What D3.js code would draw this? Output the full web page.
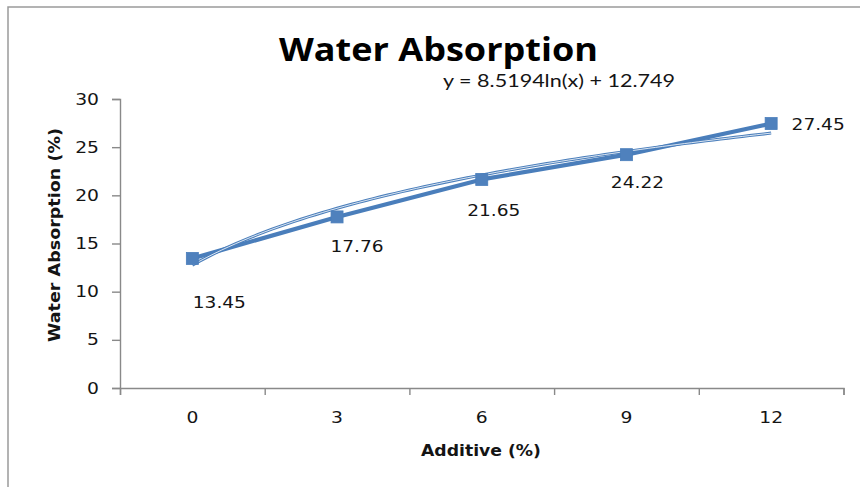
<!DOCTYPE html>
<html><head><meta charset="utf-8">
<script src="https://cdn.jsdelivr.net/npm/d3@7"></script>
<style>html,body{margin:0;padding:0;background:#fff;} text{font-variant-ligatures:none;font-feature-settings:"liga" 0, "dlig" 0;}</style>
</head><body>
<svg id="c" width="860" height="487"></svg>
<script>
// ---- data ----
const categories = ["0", "3", "6", "9", "12"];
const waterAbsorption = [13.45, 17.76, 21.65, 24.22, 27.45];
const yTicks = [0, 5, 10, 15, 20, 25, 30];
const trendCoef = [8.5194, 12.749]; // y = a ln(x) + b, x = category index (1-based)
const titleText = "Water Absorption";
const equationText = "y = 8.5194ln(x) + 12.749";
const xTitle = "Additive (%)";
const yTitle = "Water Absorption (%)";

(function () {
// ---- layout ----
const svg = d3.select("#c");
const blue = "#4a7ebb", axisCol = "#898989", txt = "#141414";
const pLeft = 120, pRight = 843.5, pTop = 99, pBottom = 388;
const labelOffsets = [[27, 44], [20, 30], [12, 31], [11, 28], [47, 1]]; // label centre offset from point

const xIdx = d3.scaleLinear().domain([0, categories.length]).range([pLeft, pRight]);
const xBand = d3.scaleBand().domain(categories).range([pLeft, pRight]).padding(0);
const y = d3.scaleLinear().domain([0, 30]).range([pBottom, pTop]);

// frame (spreadsheet chart border)
svg.append("path").attr("d", "M8,487 V7 H860").attr("fill", "none")
  .attr("stroke", "#9a9a9a").attr("stroke-width", 1.5);

function stretch(sel, f) {
  sel.each(function () {
    const l = this.getComputedTextLength();
    d3.select(this).attr("textLength", l * f).attr("lengthAdjust", "spacingAndGlyphs");
  });
}
function fitWidth(sel, w) {
  sel.attr("textLength", w).attr("lengthAdjust", "spacingAndGlyphs");
}

// y axis
const gy = svg.append("g").attr("transform", `translate(${pLeft},0)`)
  .call(d3.axisLeft(y).tickValues(yTicks).tickSize(8).tickPadding(13));
gy.select(".domain").attr("stroke", axisCol).attr("stroke-width", 1.4);
gy.selectAll(".tick line").attr("stroke", axisCol).attr("stroke-width", 1.4);
gy.selectAll("text").attr("font-family", "DejaVu Sans, Verdana, sans-serif")
  .attr("font-size", 16).attr("fill", txt);
stretch(gy.selectAll("text"), 1.17);

// x axis: tick marks at category boundaries
const gx = svg.append("g").attr("transform", `translate(0,${pBottom})`)
  .call(d3.axisBottom(xIdx).tickValues(d3.range(categories.length + 1)).tickSize(7).tickFormat(""));
gx.select(".domain").attr("stroke", axisCol).attr("stroke-width", 1.4);
gx.selectAll(".tick line").attr("stroke", axisCol).attr("stroke-width", 1.4);
// x labels at category centres
const gxl = svg.append("g").attr("transform", `translate(0,${pBottom})`)
  .call(d3.axisBottom(xBand).tickSize(0).tickPadding(0));
gxl.select(".domain").remove();
gxl.selectAll("text").attr("y", 29).attr("dy", "0.36em")
  .attr("font-family", "DejaVu Sans, Verdana, sans-serif").attr("font-size", 16).attr("fill", txt);
stretch(gxl.selectAll("text"), 1.17);

// series line
const pts = categories.map((c, i) => ({ c, v: waterAbsorption[i], x: xBand(c) + xBand.bandwidth() / 2, y: y(waterAbsorption[i]) }));
svg.append("path").datum(pts)
  .attr("d", d3.line().x(d => d.x).y(d => d.y))
  .attr("fill", "none").attr("stroke", blue).attr("stroke-width", 4.2).attr("stroke-linejoin", "round");

// trendline (log fit from the chart's equation)
const tSamples = d3.range(1, categories.length + 0.001, 0.05);
const trend = tSamples.map(t => [xIdx(t - 0.5), y(trendCoef[0] * Math.log(t) + trendCoef[1])]);
const tl = d3.line();
svg.append("path").attr("d", tl(trend)).attr("fill", "none").attr("stroke", blue).attr("stroke-width", 3.0);
svg.append("path").attr("d", tl(trend)).attr("fill", "none").attr("stroke", "#ffffff").attr("stroke-width", 1.0).attr("opacity", 0.8);

// markers
svg.selectAll("rect.m").data(pts).join("rect").attr("class", "m")
  .attr("x", d => d.x - 6).attr("y", d => d.y - 6).attr("width", 12).attr("height", 12)
  .attr("fill", "#4f81bd").attr("stroke", blue).attr("stroke-width", 0.8);

// data labels
const dl = svg.selectAll("text.dl").data(pts).join("text").attr("class", "dl")
  .attr("x", (d, i) => d.x + labelOffsets[i][0]).attr("y", (d, i) => d.y + labelOffsets[i][1])
  .attr("text-anchor", "middle").attr("dominant-baseline", "central")
  .attr("font-family", "DejaVu Sans, Verdana, sans-serif").attr("font-size", 16).attr("fill", txt)
  .text(d => d.v.toFixed(2));
stretch(dl, 1.16);

// title
const tt = svg.append("text").attr("x", 438.5).attr("y", 61).attr("text-anchor", "middle")
  .attr("font-family", "'Open Sans', Lato, sans-serif").attr("font-weight", 700).attr("font-size", 32)
  .attr("fill", "#000").text(titleText);
fitWidth(tt, 319);

// trendline equation
const eq = svg.append("text").attr("x", 559).attr("y", 87).attr("text-anchor", "middle")
  .attr("font-family", "Lato, 'Open Sans', sans-serif").attr("font-size", 17.5)
  .attr("fill", txt).text(equationText);
fitWidth(eq, 232);

// axis titles
const xt = svg.append("text").attr("x", 481).attr("y", 451).attr("text-anchor", "middle")
  .attr("dominant-baseline", "central")
  .attr("font-family", "DejaVu Sans, Verdana, sans-serif").attr("font-weight", 700).attr("font-size", 15)
  .attr("fill", txt).text(xTitle);
fitWidth(xt, 120);

const yt = svg.append("text").attr("transform", "translate(55,235) rotate(-90)").attr("text-anchor", "middle")
  .attr("dominant-baseline", "central")
  .attr("font-family", "DejaVu Sans, Verdana, sans-serif").attr("font-weight", 700).attr("font-size", 15)
  .attr("fill", txt).text(yTitle);
fitWidth(yt, 214);
})();
</script>
</body></html>
